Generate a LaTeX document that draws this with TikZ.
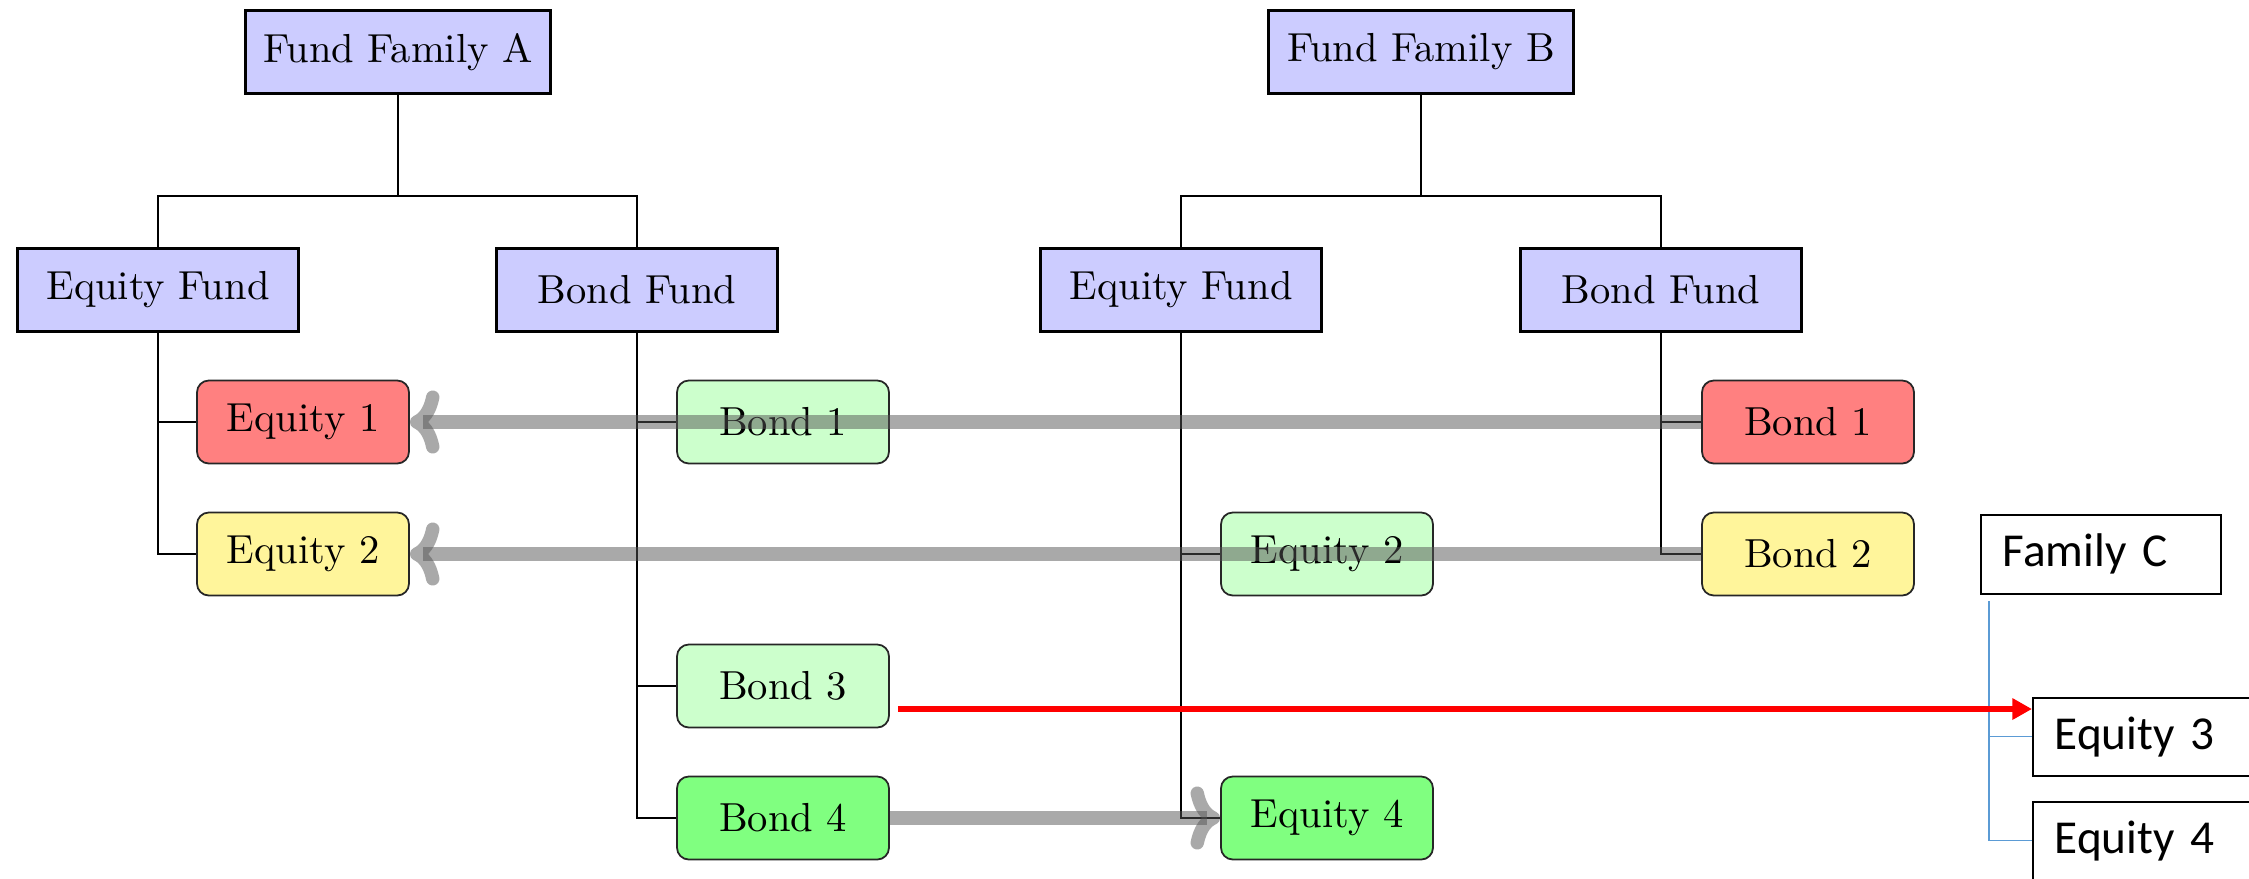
\documentclass[tikz,border=0pt]{standalone}
\usepackage{fontspec}
\newfontfamily\officefont{Carlito}
\usetikzlibrary{arrows.meta}
\definecolor{fundblue}{RGB}{204,204,255}
\definecolor{leafred}{RGB}{255,128,128}
\definecolor{leafyellow}{RGB}{255,245,155}
\definecolor{leafpale}{RGB}{204,255,204}
\definecolor{leafgreen}{RGB}{128,255,128}
\definecolor{linkblue}{RGB}{91,155,213}
\def\px{0.254pt}
\begin{document}
\begin{tikzpicture}[x=0.254pt, y=-0.254pt,
  famnode/.style={draw, line width=0.55pt, fill=fundblue, minimum width=305*\px, minimum height=83*\px, font=\fontsize{10.3}{12}\selectfont},
  fundnode/.style={famnode, minimum width=281*\px},
  leafnode/.style={draw=black!85, line width=0.45pt, rounded corners=3pt, minimum width=212*\px, minimum height=83*\px, font=\fontsize{10.3}{12}\selectfont},
  cbox/.style={draw, line width=0.4pt, anchor=north west, align=left, inner xsep=22*\px, inner ysep=0pt, text width=196*\px, minimum height=79*\px, font=\officefont\fontsize{12}{14}\selectfont},
  tree/.style={line width=0.45pt},
  garrow/.style={draw=black!67, opacity=0.5, line width=3.4pt, -{Computer Modern Rightarrow[length=7.5pt,width=16pt]}},
  rarrow/.style={draw=red, line width=1.5pt, -{Triangle[length=5pt,width=5.2pt]}},
  clink/.style={draw=linkblue, line width=0.35pt}]
\clip (0,0) rectangle (2249,878);
\fill[white] (0,0) rectangle (2249,878);

% family level
\node[famnode] (famA) at (398,52) {Fund Family A};
\node[famnode] (famB) at (1421,52) {Fund Family B};

% fund level
\node[fundnode] (eqfA) at (158,290) {Equity Fund};
\node[fundnode] (bdfA) at (637,290) {Bond Fund};
\node[fundnode] (eqfB) at (1181,290) {Equity Fund};
\node[fundnode] (bdfB) at (1661,290) {Bond Fund};

% holdings
\node[leafnode, fill=leafred]    (eq1A) at (303,422) {Equity 1};
\node[leafnode, fill=leafyellow] (eq2A) at (303,554) {Equity 2};
\node[leafnode, fill=leafpale]   (bd1A) at (783,422) {Bond 1};
\node[leafnode, fill=leafpale]   (bd3A) at (783,686) {Bond 3};
\node[leafnode, fill=leafgreen]  (bd4A) at (783,818) {Bond 4};
\node[leafnode, fill=leafpale]   (eq2B) at (1327,554) {Equity 2};
\node[leafnode, fill=leafgreen]  (eq4B) at (1327,818) {Equity 4};
\node[leafnode, fill=leafred]    (bd1B) at (1808,422) {Bond 1};
\node[leafnode, fill=leafyellow] (bd2B) at (1808,554) {Bond 2};

% family C
\node[cbox] (famC) at (1980,514) {Family C};
\node[cbox, minimum height=78*\px] (eq3C) at (2032,697) {Equity 3};
\node[cbox, minimum height=78*\px] (eq4C) at (2032,801) {Equity 4};

% tree connectors
\coordinate (barA) at (398,196);
\coordinate (barB) at (1421,196);
\draw[tree] (famA.south) -- (barA);
\draw[tree] (eqfA.north) -- (eqfA.north |- barA) -- (bdfA.north |- barA) -- (bdfA.north);
\draw[tree] (famB.south) -- (barB);
\draw[tree] (eqfB.north) -- (eqfB.north |- barB) -- (bdfB.north |- barB) -- (bdfB.north);

\draw[tree] (eqfA.south) |- (eq1A.west);
\draw[tree] (eqfA.south) |- (eq2A.west);
\draw[tree] (bdfA.south) |- (bd1A.west);
\draw[tree] (bdfA.south) |- (bd3A.west);
\draw[tree] (bdfA.south) |- (bd4A.west);
\draw[tree] (eqfB.south) |- (eq2B.west);
\draw[tree] (eqfB.south) |- (eq4B.west);
\draw[tree] (bdfB.south) |- (bd1B.west);
\draw[tree] (bdfB.south) |- (bd2B.west);

% family C links
\coordinate (cstem) at (1989,601);
\draw[clink] (cstem) |- (eq3C.west);
\draw[clink] (cstem) |- (eq4C.west);

% cross-holdings
\draw[garrow] (bd1B.west) -- (eq1A.east);
\draw[garrow] (bd2B.west) -- (eq2A.east);
\draw[garrow] (bd4A.east) -- (eq4B.west);

\coordinate (rstart) at (898,709);
\draw[rarrow] (rstart) -- (rstart -| eq3C.west);
\end{tikzpicture}
\end{document}
